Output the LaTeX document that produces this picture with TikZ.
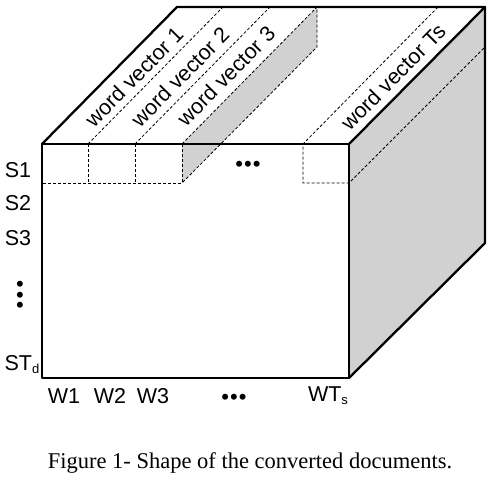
\documentclass[tikz,border=0pt]{standalone}
\usepackage{fontspec}
\setmainfont{Liberation Sans}
\newfontfamily\capfont{Liberation Serif}
\begin{document}
\begin{tikzpicture}[x=1pt,y=-1pt,
  edge/.style={line width=2.3pt, line join=round, line cap=round},
  dsh/.style={line width=0.8pt, dash pattern=on 3pt off 2pt},
  face/.style={fill=black!18},
  lbl/.style={font=\fontsize{21.5}{21.5}\selectfont, inner sep=0pt},
  wv/.style={lbl, rotate=45.4},
  dots/.style={font=\fontsize{22}{22}\selectfont, inner sep=0pt}]
\useasboundingbox (0,0) rectangle (492,482);
% cube corners
\coordinate (A) at (42,144);
\coordinate (B) at (349,144);
\coordinate (C) at (349,378);
\coordinate (D) at (42,378);
\coordinate (E) at (177,7);
\coordinate (F) at (485,7);
\coordinate (G) at (485,243);
% column / row points
\coordinate (c1) at (88,144);  \coordinate (c1b) at (223,7);  \coordinate (c1d) at (88,183);
\coordinate (c2) at (135,144); \coordinate (c2b) at (270,7);  \coordinate (c2d) at (135,183);
\coordinate (c3) at (182,144); \coordinate (c3b) at (317,7);  \coordinate (c3d) at (182,183);
\coordinate (c3m) at (317,47);
\coordinate (r1) at (42,183);
\coordinate (t1) at (303,144); \coordinate (t1b) at (438,7);  \coordinate (t1d) at (303,183);
\coordinate (tr) at (349,183); \coordinate (trb) at (485,47);
% faces
\fill[face] (B) -- (F) -- (G) -- (C) -- cycle;
\fill[face] (c3) -- (c3b) -- (c3m) -- (c3d) -- cycle;
% dashed lines
\draw[dsh] (c1) -- (c1b) (c2) -- (c2b) (c3) -- (c3b) -- (c3m) -- (c3d);
\draw[dsh] (c1) -- (c1d) (c2) -- (c2d) (c3) -- (c3d) -- (r1);
\draw[dsh] (t1b) -- (t1) -- (t1d) -- (tr) -- (trb);
% solid edges
\draw[edge] (A) -- (B) -- (C) -- (D) -- cycle;
\draw[edge] (A) -- (E) -- (F) -- (B);
\draw[edge] (F) -- (G) -- (C);
% word vector labels
\node[wv] (wv1) at (134,77) {word vector 1};
\node[wv] (wv2) at (180,77) {word vector 2};
\node[wv] (wv3) at (226,76) {word vector 3};
\node[wv] (wvT) at (393,77) {word vector Ts};
% row labels
\node[lbl] (s1) at (18,170) {S1};
\node[lbl] (s2) at (18,203) {S2};
\node[lbl] (s3) at (18,238) {S3};
\node[dots, align=center, font=\fontsize{22}{10.5}\selectfont] (vd) at (20,297) {•\\•\\•};
\node[lbl] (std) at (22,365) {ST{\fontsize{13}{13}\selectfont\raisebox{-3pt}{d}}};
% column labels
\node[lbl] (w1) at (64,396) {W1};
\node[lbl] (w2) at (110,396) {W2};
\node[lbl] (w3) at (153,396) {W3};
\node[dots] (hd) at (234,399) {•\kern1pt•\kern1pt•};
\node[lbl] (wts) at (328,396) {WT{\fontsize{13}{13}\selectfont\raisebox{-3pt}{s}}};
\node[dots] (td) at (248,166) {•\kern1pt•\kern1pt•};
% caption
\node[inner sep=0pt, anchor=base, font=\capfont\fontsize{22.5}{22.5}\selectfont] (cap) at (250,468) {Figure 1- Shape of the converted documents.};
\end{tikzpicture}
\end{document}
